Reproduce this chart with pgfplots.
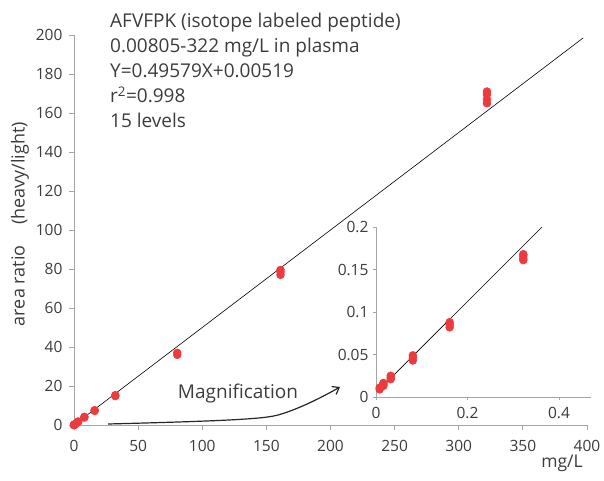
\documentclass[border=0pt]{standalone}
\usepackage{fontspec}
\setmainfont{Open Sans}
\usepackage{pgfplots}
\pgfplotsset{compat=1.18}
\usetikzlibrary{arrows.meta}
\definecolor{dotred}{RGB}{236,58,62}
\definecolor{axgray}{RGB}{165,165,165}
\definecolor{txt}{RGB}{60,60,60}
\begin{document}
\begin{tikzpicture}
\path[use as bounding box] (-74pt,-56pt) rectangle (530pt,425pt);
\pgfplotsset{
  common/.style={
    scale only axis, anchor=south west,
    axis x line*=bottom, axis y line*=left,
    axis line style={axgray, line width=0.8pt},
    tick style={axgray, line width=0.8pt},
    tick align=outside,
    tick label style={font=\fontsize{15.5}{17}\selectfont, text=txt},
    /pgf/number format/assume math mode=true,
    clip=false,
  },
  dots/.style={only marks, mark=*, mark size=4pt, mark options={fill=dotred, draw=dotred}},
}
% main axis
\begin{axis}[common, at={(0pt,0pt)}, width=513pt, height=390pt,
  xmin=0, xmax=400, ymin=0, ymax=200,
  xtick={0,50,...,400}, ytick={0,20,...,200},
  xticklabel style={yshift=-7pt},
  yticklabel style={xshift=-3pt},
  major tick length=5pt]
\addplot[dots] table[row sep=\\] {
x y\\
0.00805 0.009\\ 0.0161 0.015\\ 0.0322 0.023\\ 0.0805 0.046\\ 0.161 0.085\\ 0.322 0.165\\
0.805 0.40\\ 1.61 0.80\\ 1.61 0.90\\ 3.22 1.6\\ 3.22 1.8\\
8.05 3.8\\ 8.05 4.2\\ 16.1 7.2\\ 16.1 7.6\\ 32.2 14.8\\ 32.2 15.3\\
80.5 36.0\\ 80.5 37.0\\ 161 77.0\\ 161 78.5\\ 161 79.5\\
322 165.0\\ 322 167.0\\ 322 169.5\\ 322 171.0\\
};
\addplot[black, line width=0.6pt] coordinates {(0,0) (397,198.5)};
\end{axis}
% inset axis
\begin{axis}[common, at={(302pt,28pt)}, width=215pt, height=170pt,
  xmin=0, xmax=0.47, ymin=0, ymax=0.2,
  xtick={0,0.2,0.4}, ytick={0,0.05,0.1,0.15,0.2},
  yticklabel style={xshift=-1pt, /pgf/number format/fixed, /pgf/number format/precision=2},
  xticklabel style={yshift=-4pt, /pgf/number format/fixed, /pgf/number format/precision=1},
  major tick length=3pt]
\addplot[dots] table[row sep=\\] {
x y\\
0.00805 0.009\\ 0.00805 0.011\\
0.0161 0.013\\ 0.0161 0.015\\ 0.0161 0.0165\\
0.0322 0.021\\ 0.0322 0.023\\ 0.0322 0.025\\
0.0805 0.043\\ 0.0805 0.046\\ 0.0805 0.049\\
0.161 0.082\\ 0.161 0.085\\ 0.161 0.088\\
0.322 0.161\\ 0.322 0.163\\ 0.322 0.166\\ 0.322 0.168\\
};
\addplot[black, line width=0.6pt] coordinates {(0.002,0.006) (0.363,0.2)};
\end{axis}
% labels
\node[rotate=90, font=\fontsize{18}{20}\selectfont, text=txt] at (-54pt,201pt) {area ratio\hspace{1.15em}(heavy/light)};
\node[font=\fontsize{17.5}{19}\selectfont, text=txt] at (488pt,-38pt) {mg/L};
\node[anchor=north west, align=left, inner sep=0pt, font=\fontsize{19}{25}\selectfont, text=txt] at (36pt,412pt)
  {AFVFPK (isotope labeled peptide)\\0.00805-322 mg/L in plasma\\Y=0.49579X+0.00519\\r\textsuperscript{2}=0.998\\15 levels};
\node[font=\fontsize{19}{22}\selectfont, text=txt] at (164pt,31pt) {Magnification};
\draw[black!85, line width=1.2pt, -{Straight Barb[length=6pt,width=9pt]}]
  (34pt,1pt) .. controls (150pt,4pt) and (190pt,6pt) .. (204pt,10pt)
  .. controls (222pt,15pt) and (245pt,26pt) .. (266pt,38pt);
\end{tikzpicture}
\end{document}
